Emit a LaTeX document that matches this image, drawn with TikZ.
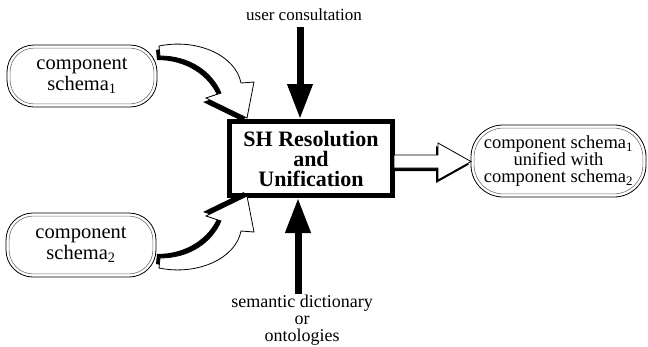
\documentclass[tikz,border=0pt]{standalone}
\usepackage{fontspec}
\setmainfont{Liberation Serif}
\usetikzlibrary{arrows.meta,calc}
% curved flare arrow (upper one); lower one is its mirror image
\newcommand\flarepath{(159,46) .. controls (198,38) and (236,56) .. (241,83) -- (254,82) -- (247,118) -- (206,98) -- (221,93) .. controls (212,72) and (190,56) .. (160,56) -- cycle}
% hollow straight arrow, starting at the upper-left corner of its shaft
\newcommand\rarrowpath[1]{(#1) -- ++(44,0) -- ++(0,-12) -- ++(33,18.5) -- ++(-33,18.5) -- ++(0,-12) -- ++(-44,0) -- cycle}
\begin{document}
\begin{tikzpicture}[x=1pt,y=-1pt,
  pill/.style={draw=black, line width=0.8pt, rounded corners=27pt, align=center,
    font=\fontsize{20.5}{20.5}\selectfont, inner sep=0pt},
  innerline/.style={draw=black!55, line width=0.6pt, rounded corners=24pt},
  mainbox/.style={draw=black, line width=5pt, fill=white, minimum width=163pt,
    minimum height=74pt, align=center, font=\fontsize{22}{20}\selectfont\bfseries, inner sep=0pt},
  lab/.style={align=center, font=\fontsize{17}{17}\selectfont, inner sep=1pt},
  vert/.style={line width=7pt, -{Triangle[length=35pt,width=24pt]}},
  hollow/.style={fill=white, draw=black, line width=0.8pt, line join=miter},
  shade/.style={fill=black}]
\useasboundingbox (0,0) rectangle (648,346);

% nodes
\node[mainbox] (box) at (311,158.5) {SH Resolution\\and\\Unification};
\node[pill, minimum width=150pt, minimum height=62pt] (p1) at (82,76) {component\\schema\textsubscript{1}};
\node[pill, minimum width=150pt, minimum height=64pt] (p2) at (81,245) {component\\schema\textsubscript{2}};
\node[pill, rounded corners=32pt, minimum width=175pt, minimum height=72pt,
  font=\fontsize{18.5}{17}\selectfont] (pr) at (558.5,161)
  {component schema\textsubscript{1}\\unified with\\component schema\textsubscript{2}};
\node[lab] (uc) at (304,15) {user consultation};
\node[lab, font=\fontsize{18}{17}\selectfont] (sd) at (302,320) {semantic dictionary\\or\\ontologies};

% inner (grey) outlines of the double-bordered pills
\foreach \p/\r in {p1/24pt, p2/24pt, pr/29pt}
  \draw[innerline, rounded corners=\r] ([shift={(3.5,3.5)}]\p.north west) rectangle ([shift={(-3.5,-3.5)}]\p.south east);

% vertical arrows
\coordinate (dxd) at (300,0);
\coordinate (dxu) at (298,0);
\draw[vert, shorten <=5pt] (uc.south -| dxd) -- (box.north -| dxd);
\draw[vert] (sd.north -| dxu) -- (box.south -| dxu);

% curved arrows from the component schemas
\begin{scope}
  \fill[shade, shift={(-3,4)}] \flarepath;
  \filldraw[hollow] \flarepath;
\end{scope}
\begin{scope}[shift={(0,314)}, yscale=-1]
  \fill[shade, shift={(-3,4)}] \flarepath;
  \filldraw[hollow] \flarepath;
\end{scope}

% hollow arrow to the unified schema
\fill[shade] \rarrowpath{[shift={(-3,-0.5)}]box.east};
\filldraw[hollow] \rarrowpath{[shift={(-1,-3.5)}]box.east};
\end{tikzpicture}
\end{document}
